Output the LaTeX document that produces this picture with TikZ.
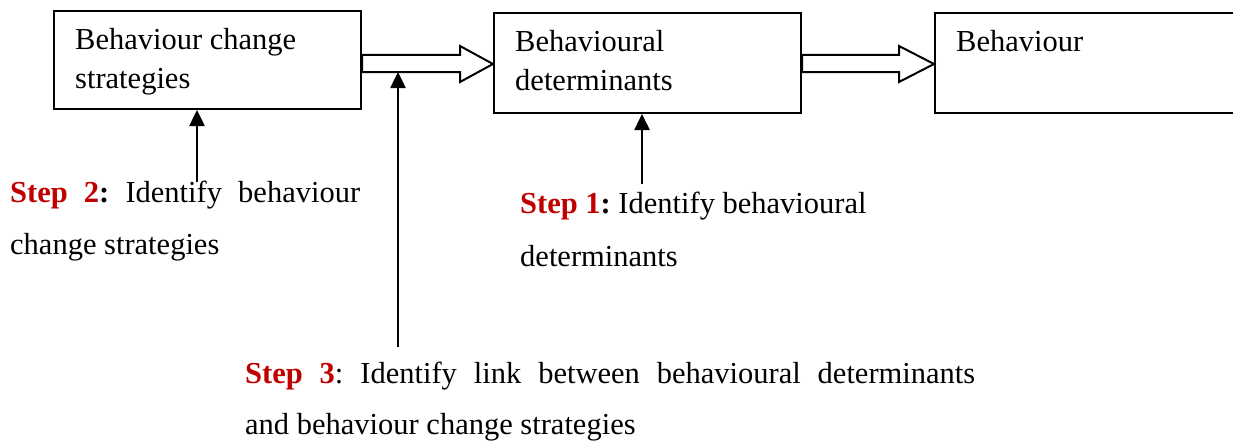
\documentclass[tikz,border=0pt]{standalone}
\usepackage{fontspec}
\setmainfont{Liberation Serif}
\usetikzlibrary{arrows.meta,calc}
\definecolor{stepred}{RGB}{192,0,0}
\newcommand{\steplabel}[1]{\textcolor{stepred}{\textbf{#1}}}
\begin{document}
\frenchspacing
\begin{tikzpicture}[x=1pt,y=-1pt,
  every node/.style={font=\fontsize{30.5pt}{38pt}\selectfont},
  box/.style={draw, line width=2pt, rectangle, inner sep=0pt, anchor=north west},
  txt/.style={inner sep=0pt, anchor=base west},
  blockarrow/.style={draw, line width=2pt, fill=white, line join=miter},
  steparrow/.style={line width=2.5pt, -{Triangle[width=15pt,length=16pt]}}]
\useasboundingbox (0,0) rectangle (1233,444);

% the three stages
\node[box, minimum width=307pt, minimum height=98pt] (b1) at (53,10) {};
\node[box, minimum width=307pt, minimum height=100pt] (b2) at (493,12) {};
\node[box, minimum width=330pt, minimum height=100pt] (b3) at (934,12) {};
\node[txt] (b1a) at (75,50) {Behaviour change};
\node[txt] (b1b) at (75,88) {strategies};
\node[txt] (b2a) at (515,52) {Behavioural};
\node[txt] (b2b) at (515,90) {determinants};
\node[txt] (b3a) at (956,52) {Behaviour};

% hollow block arrows between the stages
\draw[blockarrow] (b1.east |- 0,55) -- (460,55) -- (460,46) -- (b2.west |- 0,64)
  -- (460,82) -- (460,72) -- (b1.east |- 0,72) -- cycle;
\draw[blockarrow] (b2.east |- 0,55) -- (899,55) -- (899,46) -- (b3.west |- 0,64)
  -- (899,82) -- (899,72) -- (b2.east |- 0,72) -- cycle;
\coordinate (link) at (398,72);

% step annotations
\node[txt] (s2a) at (10,202) {\makebox[350pt][s]{\steplabel{Step 2}\textbf{:} Identify behaviour}};
\node[txt] (s2b) at (10,254) {change strategies};
\node[txt] (s1a) at (520,213) {\steplabel{Step 1}\textbf{:} Identify behavioural};
\node[txt] (s1b) at (520,266) {determinants};
\node[txt] (s3a) at (245,383) {\makebox[730pt][s]{\steplabel{Step 3}: Identify link between behavioural determinants}};
\node[txt] (s3b) at (245,434) {and behaviour change strategies};

% arrows from the steps to what they identify
\coordinate (s2top) at (197,182);
\coordinate (s1top) at (642,184);
\coordinate (s3top) at (398,347);
\draw[steparrow] (s2top) -- (s2top |- b1.south);
\draw[steparrow] (s1top) -- (s1top |- b2.south);
\draw[steparrow] (s3top) -- (link);
\end{tikzpicture}
\end{document}
